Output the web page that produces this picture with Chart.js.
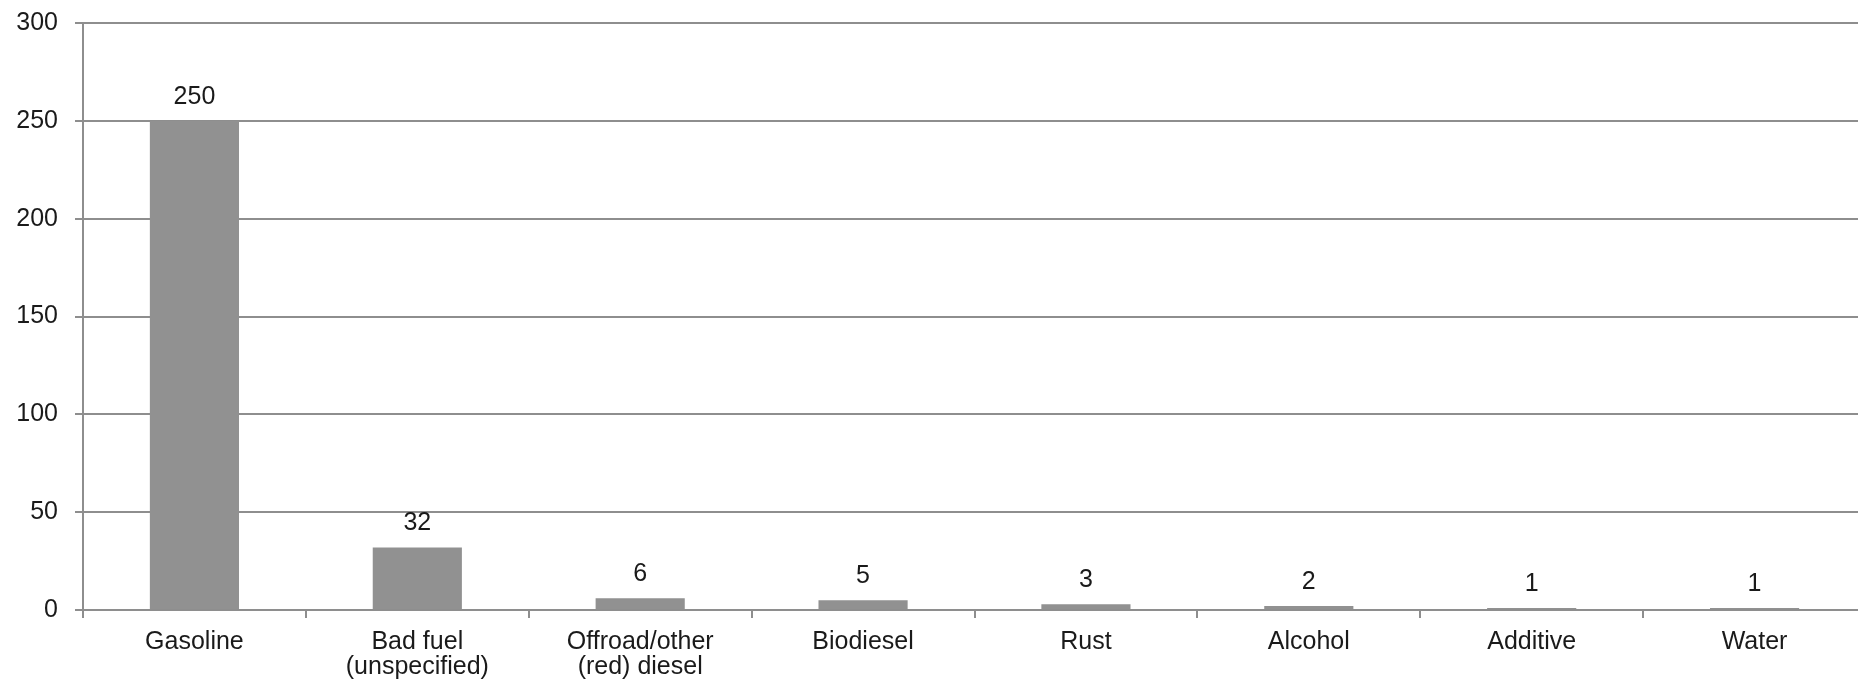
<!DOCTYPE html>
<html>
<head>
<meta charset="utf-8">
<title>Fuel-related causes</title>
<script src="https://cdn.jsdelivr.net/npm/chart.js@4/dist/chart.umd.min.js"></script>
<style>
  html, body { margin: 0; padding: 0; background: #ffffff; overflow: hidden; }
  #wrap { width: 1866px; height: 687px; position: relative; }
</style>
</head>
<body>
<div id="wrap"><canvas id="chart"></canvas></div>
<script>
// Categories (multi-line labels as arrays) and counts
const categories = [
  'Gasoline',
  ['Bad fuel', '(unspecified)'],
  ['Offroad/other', '(red) diesel'],
  'Biodiesel',
  'Rust',
  'Alcohol',
  'Additive',
  'Water'
];
const counts = [250, 32, 6, 5, 3, 2, 1, 1];
const yTickValues = [0, 50, 100, 150, 200, 250, 300];

const FONT = '"Liberation Sans", Arial, Helvetica, sans-serif';
const GRID = '#8e8e8e';
const TEXT = '#1a1a1a';

// Writes each bar's value above it
const valueLabels = {
  id: 'valueLabels',
  afterDatasetsDraw(chart) {
    const ctx = chart.ctx;
    const meta = chart.getDatasetMeta(0);
    ctx.save();
    ctx.font = '25px ' + FONT;
    ctx.fillStyle = TEXT;
    ctx.textAlign = 'center';
    ctx.textBaseline = 'alphabetic';
    meta.data.forEach((bar, i) => {
      ctx.fillText(String(counts[i]), bar.x, bar.y - 17);
    });
    ctx.restore();
  }
};

new Chart(document.getElementById('chart'), {
  type: 'bar',
  data: {
    labels: categories,
    datasets: [{
      data: counts,
      backgroundColor: '#919191',
      borderWidth: 0,
      categoryPercentage: 1.0,
      barPercentage: 0.4
    }]
  },
  options: {
    responsive: true,
    maintainAspectRatio: false,
    animation: false,
    devicePixelRatio: 1,
    layout: { padding: { top: 23, left: 0, right: 0, bottom: 0 } },
    plugins: {
      legend: { display: false },
      tooltip: { enabled: false }
    },
    scales: {
      x: {
        grid: {
          display: true,
          drawOnChartArea: false,
          drawTicks: true,
          tickLength: 8,
          color: GRID,
          lineWidth: 2
        },
        border: { display: true, color: GRID, width: 2 },
        ticks: {
          color: TEXT,
          font: { family: FONT, size: 25, lineHeight: 1.0 },
          padding: 12,
          maxRotation: 0,
          autoSkip: false
        },
        afterFit(scale) {
          scale.height = 77;
          scale.paddingLeft = 0;
          scale.paddingRight = 0;
        }
      },
      y: {
        min: 0,
        max: 300,
        afterBuildTicks(scale) {
          scale.ticks = yTickValues.map(v => ({ value: v }));
        },
        grid: {
          color: GRID,
          lineWidth: 2,
          drawTicks: true,
          tickLength: 8
        },
        border: { display: true, color: GRID, width: 2 },
        ticks: {
          color: TEXT,
          font: { family: FONT, size: 25 },
          padding: 17
        },
        afterFit(scale) {
          scale.width = 83;
          scale.paddingTop = 0;
          scale.paddingBottom = 0;
        }
      }
    }
  },
  plugins: [valueLabels]
});
</script>
</body>
</html>
